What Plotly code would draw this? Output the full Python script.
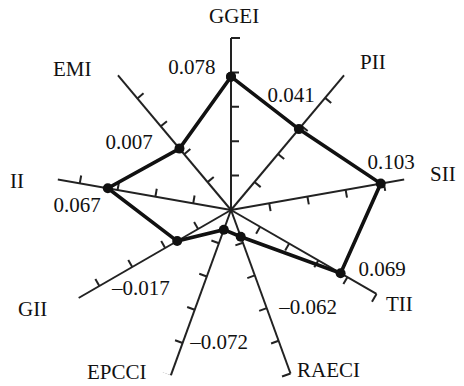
import math
import plotly.graph_objects as go

# Indicator names, clockwise from the top spoke
categories = ["GGEI", "PII", "SII", "TII", "RAECI", "EPCCI", "GII", "II", "EMI"]
# Coefficient for each indicator
values = [0.078, 0.041, 0.103, 0.069, -0.062, -0.072, -0.017, 0.067, 0.007]

# ---- axis / styling configuration ----
R_MIN, R_MAX = -0.1, 0.135           # radial range of the polar subplot
spoke_end = [0.1296, 0.1443, 0.159, 0.1243, 0.1323, 0.1363, 0.1537, 0.1563, 0.143]
n_ticks = 5                           # divisions along each spoke (last one is the end cap)
# label nudges: (radial shift, angular shift in degrees)
value_nudge = [(0.0173, -15.5), (0.0298, -12.0), (0.0193, -6.0), (0.0485, -8.0),
               (0.1294, -17.9), (0.1516, -14.9), (0.0778, -11.6), (0.0386, -8.9),
               (0.0552, -17.1)]
name_nudge = [(0.0294, 0.9), (0.0294, 3.8), (0.028, 0.4), (0.0334, -0.8),
              (0.0175, -11.5), (0.028, 15.0), (0.0424, 3.5), (0.0321, -2.3),
              (0.040, -8.2)]

W, H = 464, 386
CX, CY = 231, 210                     # centre of the chart in pixels
RADIUS_PX = 176
PX_PER_UNIT = RADIUS_PX / (R_MAX - R_MIN)
FONT = dict(family="Liberation Serif, Times New Roman, serif", size=21, color="#111")

n = len(categories)
theta = [i * 360.0 / n for i in range(n)]


def fmt(v):
    return f"{v:.3f}".replace("-", "\u2013")


def tick(theta_deg, r_base, length_px):
    """Short tick on the clockwise side of a spoke, length given in pixels."""
    rho = (r_base - R_MIN) * PX_PER_UNIT
    rho_tip = math.hypot(rho, length_px)
    dth = math.degrees(math.atan2(length_px, rho))
    return [r_base, R_MIN + rho_tip / PX_PER_UNIT], [theta_deg, theta_deg + dth]


def polar_to_paper(r, theta_deg):
    """Paper coordinates of a polar position lying outside the radial range."""
    rho = (r - R_MIN) * PX_PER_UNIT
    a = math.radians(theta_deg)
    x = CX + rho * math.sin(a)
    y = CY - rho * math.cos(a)
    return x / W, 1 - y / H


fig = go.Figure()

# spokes
sr, st = [], []
for t, e in zip(theta, spoke_end):
    sr += [R_MIN, e, None]
    st += [t, t, None]
fig.add_trace(go.Scatterpolar(r=sr, theta=st, mode="lines",
                              line=dict(color="#222", width=2), hoverinfo="skip"))

# tick marks and end caps
tr, tt = [], []
for t, e in zip(theta, spoke_end):
    step = (e - R_MIN) / n_ticks
    for k in range(1, n_ticks + 1):
        rr, th = tick(t, R_MIN + k * step, 9 if k == n_ticks else 8)
        tr += rr + [None]
        tt += th + [None]
fig.add_trace(go.Scatterpolar(r=tr, theta=tt, mode="lines",
                              line=dict(color="#222", width=2), hoverinfo="skip"))

# coefficient polygon
fig.add_trace(go.Scatterpolar(
    r=values + [values[0]], theta=theta + [theta[0]],
    mode="lines+markers",
    line=dict(color="#111", width=3.6),
    marker=dict(color="#111", size=10),
))

# value labels
fig.add_trace(go.Scatterpolar(
    r=[v + d[0] for v, d in zip(values, value_nudge)],
    theta=[t + d[1] for t, d in zip(theta, value_nudge)],
    mode="text", text=[fmt(v) for v in values],
    textposition="middle center", textfont=FONT, cliponaxis=False, hoverinfo="skip",
))

# indicator names beyond the spoke ends
annotations = []
for name, t, e, (dr, dth) in zip(categories, theta, spoke_end, name_nudge):
    px, py = polar_to_paper(e + dr, t + dth)
    annotations.append(dict(x=px, y=py, xref="paper", yref="paper", text=name,
                            showarrow=False, xanchor="center", yanchor="middle",
                            font=FONT))

fig.update_layout(
    width=W, height=H,
    margin=dict(l=0, r=0, t=0, b=0),
    paper_bgcolor="white", plot_bgcolor="white",
    showlegend=False,
    annotations=annotations,
    polar=dict(
        domain=dict(x=[(CX - RADIUS_PX) / W, (CX + RADIUS_PX) / W],
                    y=[0, 2 * RADIUS_PX / H]),
        bgcolor="rgba(0,0,0,0)",
        radialaxis=dict(range=[R_MIN, R_MAX], visible=False),
        angularaxis=dict(type="linear", thetaunit="degrees", rotation=90,
                         direction="clockwise", visible=False),
    ),
)

fig.write_html("out.html")
